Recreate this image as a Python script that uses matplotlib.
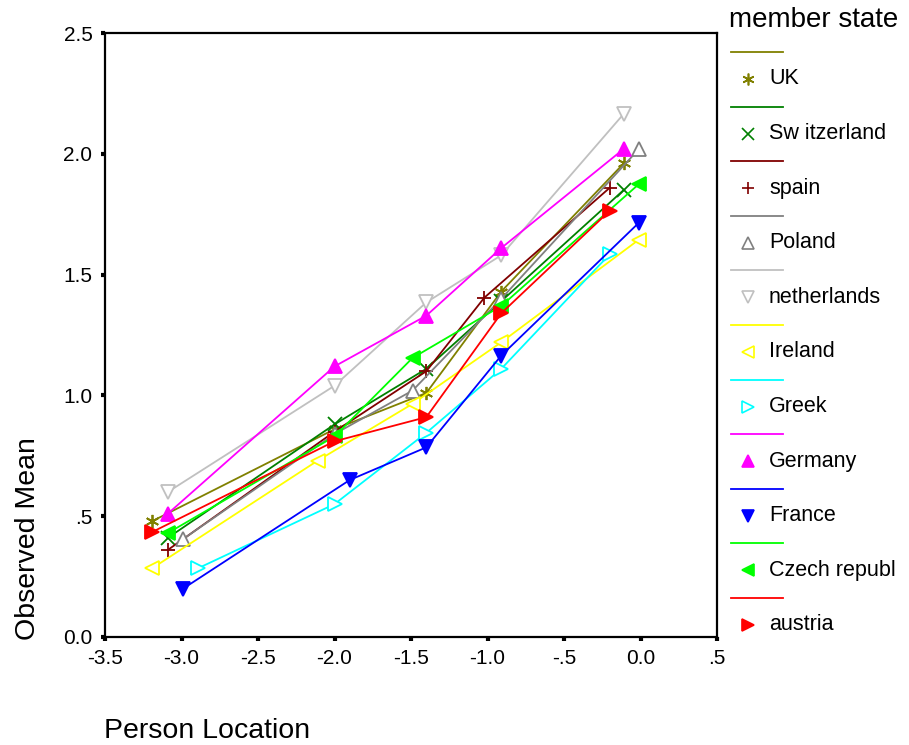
import matplotlib.pyplot as plt
from matplotlib.lines import Line2D

plt.rcParams['font.family'] = ['Liberation Sans', 'DejaVu Sans']

# observed means per member state
states = ["UK", "Sw itzerland", "spain", "Poland", "netherlands", "Ireland",
          "Greek", "Germany", "France", "Czech republ", "austria"]

uk_x = [-3.19, -2.0, -1.40, -0.91, -0.11]
uk_y = [0.48, 0.86, 1.01, 1.43, 1.96]
ch_x = [-3.09, -2.0, -1.40, -0.91, -0.11]
ch_y = [0.41, 0.88, 1.11, 1.39, 1.85]
es_x = [-3.09, -2.0, -1.40, -1.02, -0.20]
es_y = [0.36, 0.85, 1.10, 1.405, 1.86]
pl_x = [-2.99, -2.0, -1.49, -0.91, -0.01]
pl_y = [0.405, 0.84, 1.02, 1.40, 2.02]
nl_x = [-3.09, -2.0, -1.40, -0.91, -0.11]
nl_y = [0.60, 1.04, 1.385, 1.58, 2.165]
ie_x = [-3.19, -2.11, -1.49, -0.91, -0.01]
ie_y = [0.285, 0.73, 0.965, 1.22, 1.645]
gr_x = [-2.89, -2.0, -1.40, -0.91, -0.20]
gr_y = [0.285, 0.55, 0.845, 1.11, 1.585]
de_x = [-3.09, -2.0, -1.40, -0.91, -0.11]
de_y = [0.51, 1.12, 1.33, 1.61, 2.02]
fr_x = [-2.99, -1.90, -1.40, -0.91, -0.01]
fr_y = [0.20, 0.65, 0.785, 1.165, 1.715]
cz_x = [-3.09, -2.0, -1.49, -0.91, -0.01]
cz_y = [0.43, 0.83, 1.155, 1.37, 1.875]
at_x = [-3.19, -2.0, -1.40, -0.91, -0.20]
at_y = [0.435, 0.81, 0.91, 1.34, 1.765]

xs = [uk_x, ch_x, es_x, pl_x, nl_x, ie_x, gr_x, de_x, fr_x, cz_x, at_x]
ys = [uk_y, ch_y, es_y, pl_y, nl_y, ie_y, gr_y, de_y, fr_y, cz_y, at_y]

colors = ["#808000", "#008000", "#800000", "#808080", "#c0c0c0", "#ffff00",
          "#00ffff", "#ff00ff", "#0000ff", "#00ff00", "#ff0000"]
markers = [(6, 2, 0), "x", "+", "^", "v", "<", ">", "^", "v", "<", ">"]
filled = [True, True, True, False, False, False, False, True, True, True, True]

xticks = [-3.5, -3.0, -2.5, -2.0, -1.5, -1.0, -0.5, 0.0, 0.5]
xtick_labels = ["-3.5", "-3.0", "-2.5", "-2.0", "-1.5", "-1.0", "-.5", "0.0", ".5"]
yticks = [0.0, 0.5, 1.0, 1.5, 2.0, 2.5]
ytick_labels = ["0.0", ".5", "1.0", "1.5", "2.0", "2.5"]

W, H = 909, 745
fig = plt.figure(figsize=(W / 100, H / 100), dpi=100)
ax = fig.add_axes([105 / W, 1 - 637 / H, (717 - 105) / W, (637 - 33) / H])


def style(i):
    c = colors[i]
    return dict(color=c, marker=markers[i],
                markerfacecolor=c if filled[i] else "white",
                markeredgecolor=c)


for i in range(len(states)):
    st = style(i)
    ax.plot(xs[i], ys[i], lw=1.3, markersize=9.5, markeredgewidth=1.3, **st)

ax.set_xlim(-3.5, 0.5)
ax.set_ylim(0, 2.5)
ax.set_xticks(xticks)
ax.set_xticklabels(xtick_labels)
ax.set_yticks(yticks)
ax.set_yticklabels(ytick_labels)
ax.tick_params(direction="out", length=3, width=3, labelsize=15, pad=6)
for s in ax.spines.values():
    s.set_linewidth(1.6)

fig.text(28 / W, 1 - 640 / H, "Observed Mean", rotation=90,
         ha="center", va="bottom", fontsize=20.5)
fig.text(104 / W, 1 - 731 / H, "Person Location", ha="left", va="center",
         fontsize=20.5)

# legend: a line sample above each marker + label
fig.text(729 / W, 1 - 20 / H, "member state", ha="left", va="center", fontsize=20)
step = 54.6
for i, name in enumerate(states):
    ly = 52 + i * step
    my = ly + 27
    fig.add_artist(Line2D([731 / W, 783 / W], [1 - ly / H, 1 - ly / H],
                          color=colors[i], lw=1.3, transform=fig.transFigure))
    st = style(i)
    fig.add_artist(Line2D([748 / W], [1 - my / H], linestyle="none",
                          markersize=8.5, markeredgewidth=1.2,
                          transform=fig.transFigure, **st))
    fig.text(769 / W, 1 - my / H, name, ha="left", va="center", fontsize=15.5)

fig.savefig("out.png", dpi=100)
